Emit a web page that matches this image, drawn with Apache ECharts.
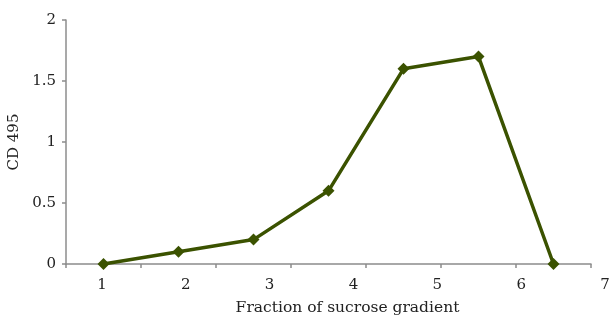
<!DOCTYPE html>
<html>
<head>
<meta charset="utf-8">
<script src="https://cdn.jsdelivr.net/npm/echarts@6/dist/echarts.min.js"></script>
<style>
    html, body { margin: 0; padding: 0; background: #fff; }
    #chart { width: 609px; height: 317px; }
</style>
</head>
<body>
<div id="chart"></div>
<script>
// Data
const fractions = ['1', '2', '3', '4', '5', '6', '7'];
const cd495 = [0, 0.1, 0.2, 0.6, 1.6, 1.7, 0];

const FONT = 'DejaVu Serif';
const AXIS_COLOR = '#8c8c8c';
const LINE_COLOR = '#3b5200';

const chart = echarts.init(document.getElementById('chart'));

const option = {
    animation: false,
    grid: [
        // plot area
        { left: 66, right: 18, top: 20, bottom: 53, outerBoundsMode: 'none' },
        // label strip (labels in the source are spaced wider than the points)
        { left: 60, right: -38, top: 20, bottom: 53, outerBoundsMode: 'none' }
    ],
    xAxis: [
        {
            type: 'category',
            gridIndex: 0,
            data: fractions,
            boundaryGap: true,
            axisLine: { lineStyle: { color: AXIS_COLOR, width: 1.5 } },
            axisTick: { show: true, length: 4, lineStyle: { color: AXIS_COLOR, width: 1.5 } },
            axisLabel: { show: false },
            splitLine: { show: false }
        },
        {
            type: 'category',
            gridIndex: 1,
            data: fractions,
            boundaryGap: true,
            axisLine: { show: false },
            axisTick: { show: false },
            axisLabel: { margin: 14, fontFamily: FONT, fontSize: 15, color: '#222' },
            splitLine: { show: false }
        },
        {
            // carries the axis title
            type: 'category',
            gridIndex: 0,
            data: fractions,
            axisLine: { show: false },
            axisTick: { show: false },
            axisLabel: { show: false },
            name: 'Fraction of sucrose gradient',
            nameLocation: 'middle',
            nameGap: 36,
            nameTextStyle: { fontFamily: FONT, fontSize: 15.5, color: '#222', padding: [0, 0, 0, 38] },
            position: 'bottom'
        }
    ],
    yAxis: [
        {
            type: 'value',
            gridIndex: 0,
            min: 0,
            max: 2,
            interval: 0.5,
            name: 'CD 495',
            nameLocation: 'middle',
            nameGap: 34,
            nameTextStyle: { fontFamily: FONT, fontSize: 15, color: '#222' },
            axisLine: { show: true, lineStyle: { color: AXIS_COLOR, width: 1.5 } },
            axisTick: { show: true, length: 4, lineStyle: { color: AXIS_COLOR, width: 1.5 } },
            axisLabel: { margin: 10, fontFamily: FONT, fontSize: 15, color: '#222' },
            splitLine: { show: false }
        },
        {
            type: 'value',
            gridIndex: 1,
            show: false
        }
    ],
    series: [
        {
            type: 'line',
            xAxisIndex: 0,
            yAxisIndex: 0,
            data: cd495,
            symbol: 'diamond',
            symbolSize: 12,
            lineStyle: { color: LINE_COLOR, width: 3.5 },
            itemStyle: { color: LINE_COLOR }
        }
    ]
};

chart.setOption(option);
</script>
</body>
</html>
